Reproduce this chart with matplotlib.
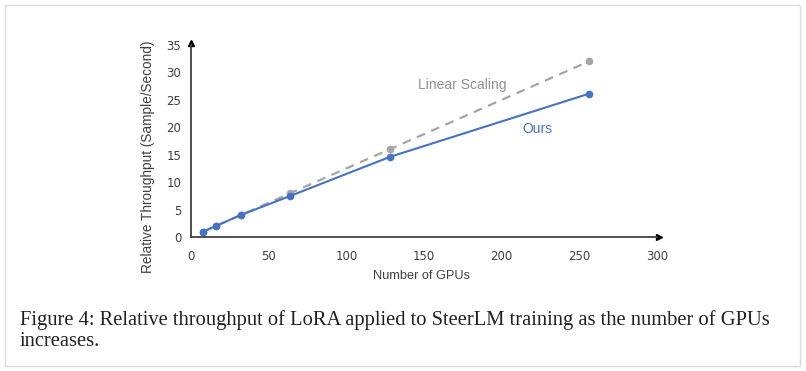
import matplotlib.pyplot as plt
from matplotlib.patches import Rectangle

gpus = [8, 16, 32, 64, 128, 256]
linear = [1, 2, 4, 8, 16, 32]
ours = [1, 2, 4, 7.5, 14.6, 26.1]
xticks = [0, 50, 100, 150, 200, 250, 300]
yticks = [0, 5, 10, 15, 20, 25, 30, 35]

blue = "#4472C4"
gray = "#A5A5A5"
axc = "#404040"

fig = plt.figure(figsize=(8.06, 3.71), dpi=100)
fig.patches.append(Rectangle((5/806, 5/371), 795/806, 361/371, transform=fig.transFigure,
                             fill=False, edgecolor="#dcdcdc", linewidth=1))

ax = fig.add_axes([191/806, (371-237)/371, 466/806, 192/371])
ax.plot(gpus, linear, color=gray, linestyle=(0, (4, 3)), linewidth=1.6, marker="o", markersize=4.5)
ax.plot(gpus, ours, color=blue, linewidth=1.5, marker="o", markersize=4.5)

ax.set_xlim(0, 300)
ax.set_ylim(0, 35)
ax.set_xticks(xticks)
ax.set_yticks(yticks)
ax.tick_params(length=0, labelsize=8.5, colors="#404040")
ax.tick_params(axis="x", pad=9)
ax.tick_params(axis="y", pad=7)
for s in ["top", "right"]:
    ax.spines[s].set_visible(False)
for s in ["left", "bottom"]:
    ax.spines[s].set_color(axc)
    ax.spines[s].set_linewidth(1.3)
ax.plot(1.005, 0, ">", color="black", markersize=5, transform=ax.transAxes, clip_on=False)
ax.plot(0, 1.01, "^", color="black", markersize=5, transform=ax.transAxes, clip_on=False)

ax.set_xlabel("Number of GPUs", fontsize=9.2, color="#404040", family="Liberation Sans", va="center")
ax.xaxis.set_label_coords(0.494, -0.203)
ax.set_ylabel("Relative Throughput (Sample/Second)", fontsize=9.8, color="#404040",
              family="Liberation Sans", va="center")
ax.yaxis.set_label_coords(-0.092, 0.417)
ax.text(174.5, 27.7, "Linear Scaling", color="#909090", fontsize=10, ha="center", va="center",
        family="Liberation Sans")
ax.text(223, 19.7, "Ours", color=blue, fontsize=10, ha="center", va="center", family="Liberation Sans")

fig.text(20/806, 1 - 320/371, "Figure 4: Relative throughput of LoRA applied to SteerLM training as the number of GPUs",
         fontsize=14.8, family="Liberation Serif", va="center", color="#202020")
fig.text(20/806, 1 - 341/371, "increases.", fontsize=14.8, family="Liberation Serif", va="center", color="#202020")

fig.savefig("out.png", dpi=100)
